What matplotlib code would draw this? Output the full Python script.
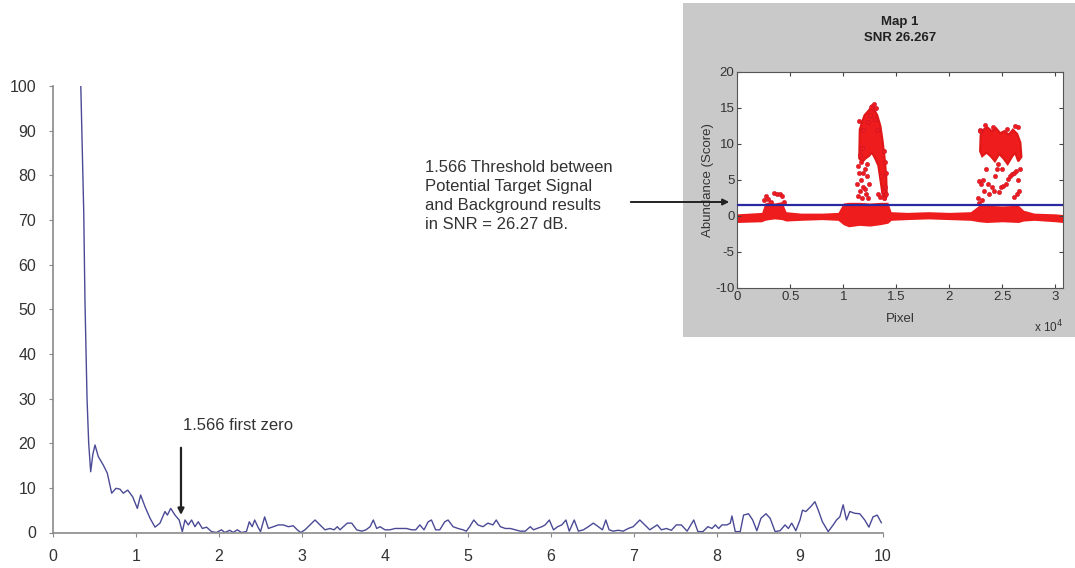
import matplotlib
matplotlib.use('Agg')
import matplotlib.pyplot as plt
from matplotlib.patches import Rectangle, FancyArrowPatch

plt.rcParams['font.family'] = ['Liberation Sans', 'DejaVu Sans']
plt.rcParams['axes.unicode_minus'] = False

# main spectrum curve
freq = [0.335, 0.345, 0.37, 0.385, 0.41, 0.43, 0.454, 0.48, 0.506, 0.546, 0.606, 0.654,
        0.707, 0.759, 0.807, 0.847, 0.9, 0.96, 1.016, 1.056, 1.108, 1.169, 1.229, 1.289,
        1.349, 1.378, 1.418, 1.47, 1.52, 1.558, 1.59, 1.63, 1.67, 1.71, 1.75, 1.80, 1.85,
        1.91, 1.97, 2.03, 2.07, 2.13, 2.17, 2.22, 2.27, 2.33, 2.365, 2.40, 2.43, 2.47,
        2.50, 2.55, 2.595, 2.654, 2.715, 2.775, 2.835, 2.895, 2.943, 2.984, 3.036, 3.096,
        3.157, 3.217, 3.277, 3.337, 3.386, 3.426, 3.458, 3.498, 3.546, 3.599, 3.659, 3.72,
        3.771, 3.82, 3.859, 3.90, 3.94, 4.0, 4.06, 4.12, 4.18, 4.26, 4.32, 4.37, 4.42,
        4.47, 4.52, 4.56, 4.61, 4.66, 4.72, 4.76, 4.82, 4.88, 4.94, 4.98, 5.02, 5.07,
        5.12, 5.18, 5.24, 5.30, 5.34, 5.39, 5.45, 5.51, 5.57, 5.63, 5.69, 5.75, 5.79,
        5.83, 5.89, 5.93, 5.98, 6.03, 6.08, 6.13, 6.18, 6.22, 6.28, 6.33, 6.39, 6.45,
        6.51, 6.57, 6.62, 6.66, 6.70, 6.75, 6.81, 6.87, 6.93, 6.99, 7.07, 7.13, 7.19,
        7.28, 7.33, 7.39, 7.45, 7.51, 7.57, 7.64, 7.72, 7.77, 7.83, 7.89, 7.94, 7.98,
        8.02, 8.06, 8.12, 8.16, 8.18, 8.22, 8.28, 8.32, 8.38, 8.43, 8.48, 8.53, 8.59,
        8.64, 8.70, 8.76, 8.82, 8.86, 8.90, 8.95, 9.0, 9.03, 9.07, 9.13, 9.18, 9.22,
        9.27, 9.34, 9.40, 9.44, 9.48, 9.52, 9.56, 9.60, 9.66, 9.72, 9.78, 9.83, 9.88,
        9.93, 9.98]
amp = [100, 92, 72, 52, 30, 20, 13.6, 17.5, 19.6, 17, 15.1, 13.3,
       8.8, 9.9, 9.7, 8.8, 9.5, 8.0, 5.4, 8.4, 5.8, 3.2, 1.2, 2.1,
       4.7, 3.9, 5.4, 3.9, 2.8, 0.2, 2.8, 1.7, 2.8, 1.3, 2.4, 0.9, 1.2,
       0.2, 0, 0.6, 0, 0.5, 0, 0.6, 0, 0.2, 2.4, 1.3, 2.8, 1.2,
       0.2, 3.5, 0.9, 1.3, 1.7, 1.7, 1.3, 1.5, 0.6, 0, 0.6, 1.7,
       2.8, 1.7, 0.6, 0.9, 0.6, 1.3, 0.6, 1.3, 2.1, 2.1, 0.6, 0.3,
       0.6, 1.3, 2.8, 0.9, 1.3, 0.6, 0.6, 0.9, 0.9, 0.9, 0.6, 0.6, 1.7,
       0.6, 2.4, 2.8, 0.6, 0.6, 2.4, 2.8, 1.3, 0.9, 0.6, 0.3, 1.3, 2.8,
       1.7, 1.3, 2.1, 1.7, 2.8, 1.3, 0.9, 0.9, 0.6, 0.3, 0.3, 1.3, 0.6,
       0.9, 1.3, 1.7, 2.8, 0.6, 1.3, 1.7, 2.8, 0.3, 2.8, 0.3, 0.6, 1.3,
       2.1, 1.3, 0.6, 2.8, 0.6, 0.3, 0.5, 0.3, 0.9, 1.3, 2.8, 1.7, 0.6,
       1.7, 0.6, 0.9, 0.5, 1.7, 1.7, 0.3, 2.8, 0.2, 0.2, 1.3, 0.9, 1.7,
       0.9, 1.7, 1.7, 2.1, 3.7, 0.2, 0.2, 3.9, 4.2, 2.8, 0.4, 3.2, 4.2,
       3.2, 0.2, 0.4, 1.7, 0.9, 2.1, 0.4, 2.8, 5.0, 4.7, 5.8, 6.9, 5.0,
       2.4, 0.2, 1.7, 2.8, 3.5, 6.2, 2.8, 4.7, 4.3, 4.2, 2.8, 1.2, 3.5,
       3.9, 2.2]

first_zero = 1.566

# inset: abundance score per pixel
threshold = 1.566
snr = 26.267
band_pix = [0, 2300, 2600, 3000, 3500, 4200, 4600, 6000, 8000, 9500, 10000, 10500, 11500,
            12500, 13500, 14200, 14500, 16000, 18000, 20000, 22000, 22800, 23500, 25000,
            26500, 27000, 28000, 30000, 30720]
band_lo = [-0.9, -0.8, -0.6, -0.5, -0.4, -0.5, -0.7, -0.6, -0.5, -0.6, -1.2, -1.5, -1.3,
           -1.4, -1.2, -1.0, -0.6, -0.5, -0.4, -0.5, -0.6, -0.8, -0.9, -0.8, -0.9, -0.7,
           -0.6, -0.8, -0.9]
band_hi = [0.3, 0.5, 1.8, 2.0, 1.8, 2.0, 0.6, 0.4, 0.4, 0.5, 1.8, 1.9, 1.9, 1.8, 1.9,
           1.9, 0.6, 0.5, 0.6, 0.5, 0.6, 1.5, 1.5, 1.4, 1.5, 0.8, 0.4, 0.3, 0.2]

# dense target regions (outlines)
core1_pix = [11500, 11550, 11800, 12000, 12300, 12600, 12900, 13200, 13500, 13700, 13900,
             14050, 14100, 13950, 13700, 13500, 13300, 13000, 12700, 12400, 12100, 11800]
core1_val = [8.0, 12.0, 13.2, 14.0, 14.5, 15.0, 14.8, 14.0, 12.5, 10.5, 8.0,
             5.5, 2.8, 2.2, 3.0, 5.0, 7.0, 8.0, 8.8, 8.3, 8.0, 7.5]
core2_pix = [22900, 22950, 23200, 23600, 24000, 24400, 24800, 25200, 25600, 26000, 26400,
             26700, 26800, 26500, 26200, 25900, 25500, 25100, 24700, 24300, 23900, 23500,
             23100]
core2_val = [9.0, 11.2, 12.0, 12.3, 11.8, 12.2, 11.5, 11.8, 11.3, 12.0, 11.4,
             10.2, 8.2, 7.6, 8.8, 8.2, 7.2, 8.0, 8.6, 7.6, 8.3, 8.8, 8.3]

# scattered pixels outside the dense regions
dots_pix = [11300, 11400, 11500, 11550, 11650, 11700, 11600, 11800, 11900, 12000, 11750,
            12100, 12200, 12300, 12400, 13300, 13500, 13700, 13800, 13900, 14000, 13600,
            14050, 13950, 13850, 12700, 12900, 12500, 13000, 12300, 11900, 13200,
            11450, 12600, 12850, 13100, 11350, 11850, 12050, 12250,
            22800, 23000, 23200, 23300, 23600, 23700, 24000, 24200, 24300, 24500, 24700,
            24900, 25100, 25300, 25500, 25700, 25900, 26100, 26300, 26500, 26600, 26700,
            26400, 26100, 22700, 22800, 23100, 22900, 26500, 24600, 25000, 23500,
            23400, 24100, 25400, 26200, 22850,
            2500, 2700, 2900, 3500, 3700, 4000, 4200, 3200, 4400]
dots_val = [4.5, 2.8, 6.0, 3.5, 5.0, 7.5, 8.5, 2.5, 4.0, 6.5, 9.5,
            3.0, 5.5, 2.5, 4.5, 3.0, 2.6, 3.5, 2.5, 4.0, 3.0, 5.5,
            6.0, 7.5, 9.0, 15.3, 14.8, 14.0, 13.5, 13.0, 12.0, 12.0,
            13.2, 15.2, 15.5, 15.0, 7.0, 6.0, 3.8, 7.2,
            4.8, 4.5, 5.0, 3.5, 4.5, 3.0, 4.0, 3.5, 5.5, 6.5, 3.3,
            4.0, 4.2, 4.5, 5.2, 5.5, 5.8, 6.0, 6.2, 5.0, 3.5, 6.5,
            3.0, 2.6, 2.5, 1.8, 2.2, 12.0, 12.3, 7.2, 6.5, 6.5,
            12.6, 12.4, 12.1, 12.5, 11.8,
            2.2, 2.8, 2.4, 3.2, 3.0, 3.1, 2.8, 2.0, 2.0]

threshold_note = ('1.566 Threshold between\nPotential Target Signal\n'
                  'and Background results\nin SNR = 26.27 dB.')

fig = plt.figure(figsize=(10.75, 5.68), dpi=100)
W, H = 1075.0, 568.0

# ---- main plot
ax = fig.add_axes([53 / W, 35.5 / H, 830 / W, 446.5 / H], zorder=0)
ax.set_facecolor('none')
ax.plot(freq, amp, color='#4a4a96', lw=1.0)
ax.set_xlim(0, 10)
ax.set_ylim(0, 100)
ax.set_xticks(range(0, 11))
ax.set_yticks(range(0, 101, 10))
for side in ('top', 'right'):
    ax.spines[side].set_visible(False)
for side in ('left', 'bottom'):
    ax.spines[side].set_color('#8a8a8a')
    ax.spines[side].set_linewidth(1.2)
ax.tick_params(direction='out', length=3, color='#8a8a8a', labelsize=11.5,
               labelcolor='#333333')
ax.tick_params(axis='x', pad=9)
ax.tick_params(axis='y', pad=9)

ax.annotate('', xy=(1.542, 3.3), xytext=(1.542, 19.6),
            arrowprops=dict(arrowstyle='-|>', color='#222222', lw=1.6, mutation_scale=9))
ax.text(first_zero, 24.0, '1.566 first zero', fontsize=12, color='#333333',
        va='center', ha='left')

# ---- grey panel behind the inset
fig.add_artist(Rectangle((683 / W, 231 / H), (W - 683) / W, 334 / H,
                         transform=fig.transFigure, facecolor='#c9c9c9',
                         edgecolor='none', zorder=1))

ax2 = fig.add_axes([737.3 / W, 280 / H, 325.7 / W, 216 / H], zorder=2)
ax2.set_facecolor('white')
red = '#ee1c1c'
ax2.fill_between(band_pix, band_lo, band_hi, color=red, lw=0)
ax2.fill(core1_pix, core1_val, facecolor=red, lw=1.5, edgecolor='#e01818')
ax2.fill(core2_pix, core2_val, facecolor=red, lw=1.5, edgecolor='#e01818')
ax2.scatter(dots_pix, dots_val, s=10, color=red, edgecolors='#c01030',
            linewidths=0.3, zorder=3)
ax2.axhline(threshold, color='#2a2aa0', lw=1.6, zorder=4)
ax2.set_xlim(0, 30720)
ax2.set_ylim(-10, 20)
ax2.set_xticks(range(0, 30001, 5000))
ax2.set_xticklabels(['0', '0.5', '1', '1.5', '2', '2.5', '3'])
ax2.set_yticks(range(-10, 21, 5))
ax2.tick_params(direction='in', length=3, top=True, right=True, labelsize=9.5,
                labelcolor='#333333', color='#444444', pad=2)
for sp in ax2.spines.values():
    sp.set_color('#555555')
    sp.set_linewidth(0.8)
ax2.set_title('Map 1\nSNR %.3f' % snr, fontsize=9.5, fontweight='bold', pad=22,
              color='#222222', linespacing=1.45)
ax2.set_xlabel('Pixel', fontsize=9.5, color='#333333', labelpad=7)
ax2.set_ylabel('Abundance (Score)', fontsize=9.5, color='#333333', labelpad=1)
ax2.text(1.0, -0.18, r'x 10$^4$', transform=ax2.transAxes, fontsize=8.5,
         color='#333333', ha='right', va='center')

# threshold note and its arrow
fig.text(425 / W, (H - 160) / H, threshold_note, fontsize=12, color='#333333',
         ha='left', va='top', linespacing=1.33, zorder=3)
fig.add_artist(FancyArrowPatch(
    (628 / W, (H - 202) / H), (732 / W, (H - 202) / H), transform=fig.transFigure,
    arrowstyle='-|>', mutation_scale=9, color='#222222', lw=1.4, zorder=5))

fig.savefig('out.png', dpi=100)
